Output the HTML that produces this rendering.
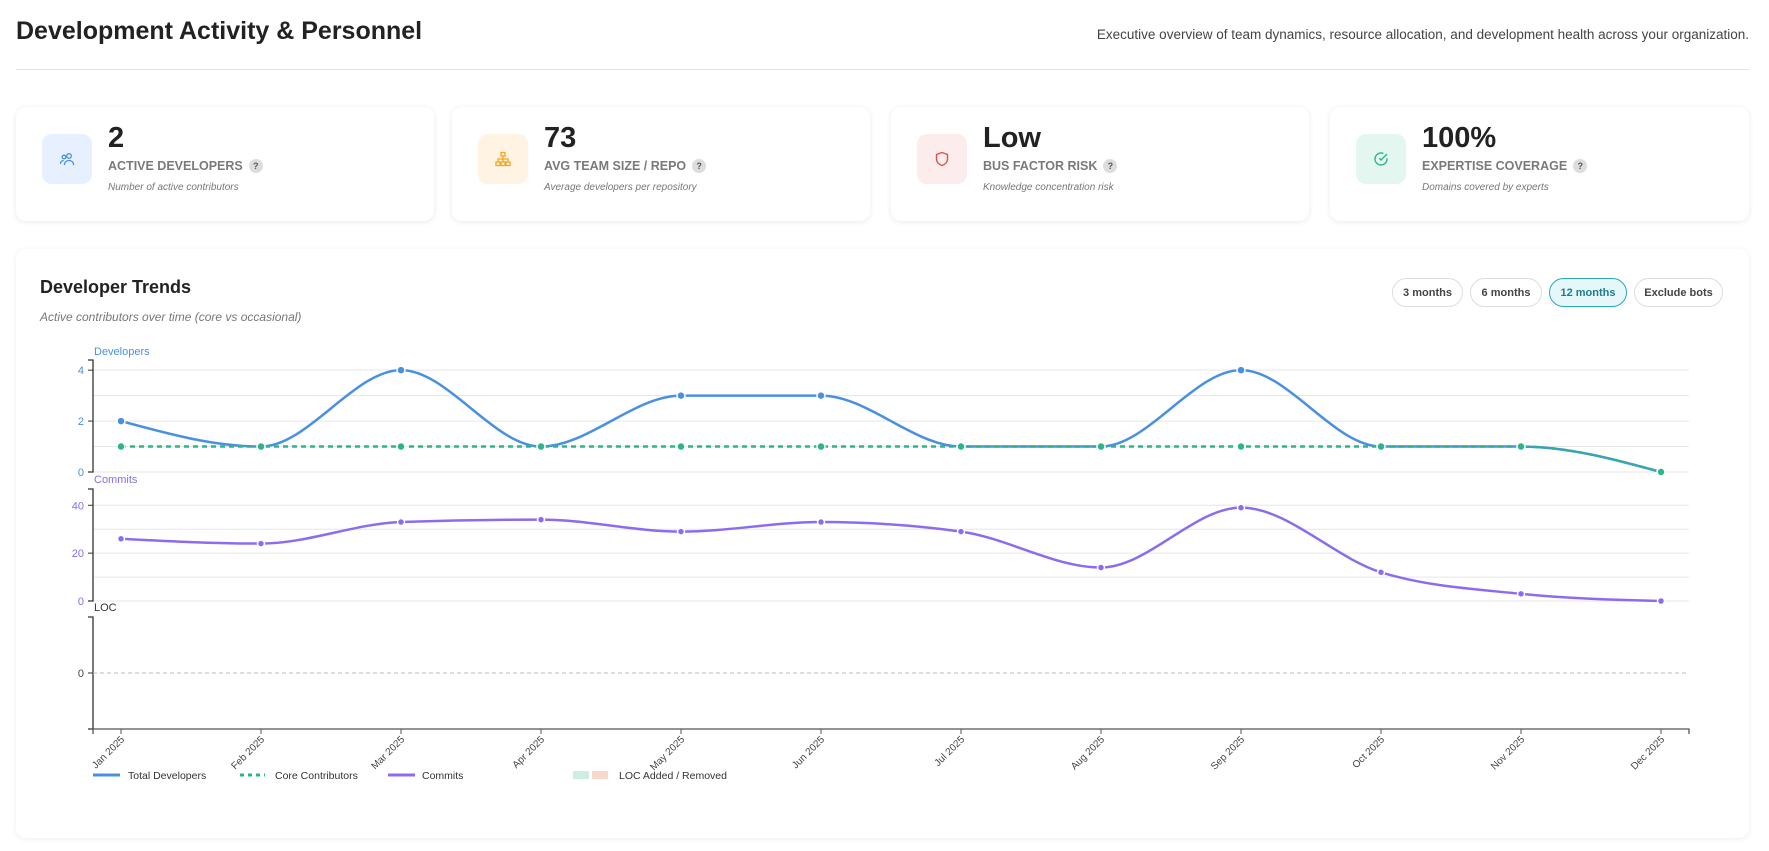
<!DOCTYPE html>
<html><head><meta charset="utf-8"><style>
*{box-sizing:border-box;margin:0;padding:0}
body{width:1769px;height:851px;background:#fff;font-family:"Liberation Sans",sans-serif;position:relative;overflow:hidden;color:#222}
h1{position:absolute;left:16px;top:17px;font-size:25px;font-weight:bold;color:#222}
.sub{position:absolute;right:20px;top:27px;font-size:13.5px;color:#444}
.divider{position:absolute;left:16px;top:69px;width:1733px;height:1px;background:#e3e3e3}
.card{position:absolute;top:107px;width:418px;height:114px;background:#fff;border-radius:10px;box-shadow:0 1px 6px rgba(0,0,0,.09)}
.icon{position:absolute;left:26px;top:27px;width:50px;height:50px;border-radius:10px;display:flex;align-items:center;justify-content:center}
.val{position:absolute;left:92px;top:15px;font-size:29px;font-weight:bold;color:#222}
.lbl{position:absolute;left:92px;top:52px;font-size:12.5px;font-weight:bold;color:#7a7a7a;display:flex;align-items:center;gap:6px}
.q{display:inline-block;width:14px;height:14px;border-radius:50%;background:#ddd;color:#555;font-size:9px;text-align:center;line-height:14px}
.desc{position:absolute;left:92px;top:75px;font-size:10px;font-style:italic;color:#777}
.chart{position:absolute;left:16px;top:249px;width:1733px;height:589px;background:#fff;border-radius:10px;box-shadow:0 1px 6px rgba(0,0,0,.08)}
.ct{position:absolute;left:24px;top:28px;font-size:18px;font-weight:bold;color:#222}
.cs{position:absolute;left:24px;top:61px;font-size:12px;font-style:italic;color:#777}
.btn{position:absolute;top:29px;height:29px;border:1px solid #ddd;border-radius:15px;font-size:11px;font-weight:bold;color:#444;display:flex;align-items:center;justify-content:center;background:#fff}
.btn.on{background:#e6f7fa;border-color:#29a8bf;color:#1b7d8f}
svg{position:absolute;left:0;top:0}
</style></head><body>
<h1>Development Activity &amp; Personnel</h1>
<div class="sub">Executive overview of team dynamics, resource allocation, and development health across your organization.</div>
<div class="divider"></div>

<div class="card" style="left:16px">
 <div class="icon" style="background:#e6f0ff"><svg style="position:static" width="16" height="16" viewBox="0 0 16 16" fill="none" stroke="#4a90e2" stroke-width="1.3"><circle cx="10" cy="5" r="2.3"/><path d="M5.5 14c0-3 2-4.5 4.5-4.5s4.5 1.5 4.5 4.5"/><circle cx="5" cy="6" r="1.8"/><path d="M1.5 13c0-2.2 1.3-3.4 3.3-3.4"/></svg></div>
 <div class="val">2</div>
 <div class="lbl">ACTIVE DEVELOPERS <span class="q">?</span></div>
 <div class="desc">Number of active contributors</div>
</div>
<div class="card" style="left:452px">
 <div class="icon" style="background:#fff3e3"><svg style="position:static" width="16" height="16" viewBox="0 0 16 16" fill="none" stroke="#f5a623" stroke-width="1.3"><rect x="6" y="1.5" width="4" height="3.5"/><rect x="1" y="11" width="4" height="3.5"/><rect x="6" y="11" width="4" height="3.5"/><rect x="11" y="11" width="4" height="3.5"/><path d="M8 5v6M3 11V8h10v3"/></svg></div>
 <div class="val">73</div>
 <div class="lbl">AVG TEAM SIZE / REPO <span class="q">?</span></div>
 <div class="desc">Average developers per repository</div>
</div>
<div class="card" style="left:891px">
 <div class="icon" style="background:#fdecec"><svg style="position:static" width="16" height="16" viewBox="0 0 16 16" fill="none" stroke="#d9534f" stroke-width="1.4"><path d="M8 1.5l5.5 2v4.5c0 3.2-2.5 5.5-5.5 6.5C5 13.5 2.5 11.2 2.5 8V3.5z"/></svg></div>
 <div class="val">Low</div>
 <div class="lbl">BUS FACTOR RISK <span class="q">?</span></div>
 <div class="desc">Knowledge concentration risk</div>
</div>
<div class="card" style="left:1330px;width:419px">
 <div class="icon" style="background:#e3f7f0"><svg style="position:static" width="16" height="16" viewBox="0 0 16 16" fill="none" stroke="#2bb58a" stroke-width="1.4"><path d="M14 7.4V8a6 6 0 1 1-3.6-5.5"/><path d="M14 3L8 9 6.2 7.2"/></svg></div>
 <div class="val">100%</div>
 <div class="lbl">EXPERTISE COVERAGE <span class="q">?</span></div>
 <div class="desc">Domains covered by experts</div>
</div>

<div class="chart">
 <div class="ct">Developer Trends</div>
 <div class="cs">Active contributors over time (core vs occasional)</div>
 <div class="btn" style="left:1376px;width:71px">3 months</div>
 <div class="btn" style="left:1454px;width:72px">6 months</div>
 <div class="btn on" style="left:1533px;width:78px">12 months</div>
 <div class="btn" style="left:1618px;width:89px">Exclude bots</div>
</div>

<svg id="chart" width="1769" height="851"></svg>
<script>
const months=["Jan 2025","Feb 2025","Mar 2025","Apr 2025","May 2025","Jun 2025","Jul 2025","Aug 2025","Sep 2025","Oct 2025","Nov 2025","Dec 2025"];
const totalDevs=[2,1,4,1,3,3,1,1,4,1,1,0];
const coreDevs=[1,1,1,1,1,1,1,1,1,1,1,0];
const commits=[26,24,33,34,29,33,29,14,39,12,3,0];
const devTicks=[0,2,4];
const commitTicks=[0,20,40];

const NS="http://www.w3.org/2000/svg";
const svg=document.getElementById('chart');
function mk(t,a,p){const e=document.createElementNS(NS,t);for(const k in a)e.setAttribute(k,a[k]);(p||svg).appendChild(e);return e;}
const X0=93,X1=1689,PAD=28;
const step=(X1-X0-2*PAD)/(months.length-1);
const x=i=>X0+PAD+i*step;
const devMax=Math.max(...totalDevs)*1.1, devTop=360, devBot=472;
const yD=v=>devBot-(v/devMax)*(devBot-devTop);
const comMax=Math.max(...commits)*1.2, comTop=489, comBot=601;
const yC=v=>comBot-(v/comMax)*(comBot-comTop);
const locTop=617, locBot=729, loc0=673;

function monotone(pts){
 const n=pts.length;if(n<2)return '';
 const dx=[],s=[];for(let i=0;i<n-1;i++){dx.push(pts[i+1][0]-pts[i][0]);s.push((pts[i+1][1]-pts[i][1])/dx[i]);}
 const t=new Array(n);
 for(let i=1;i<n-1;i++){ if(s[i-1]*s[i]<=0)t[i]=0; else { const h0=dx[i-1],h1=dx[i],p=(s[i-1]*h1+s[i]*h0)/(h0+h1); t[i]=(Math.sign(s[i-1])+Math.sign(s[i]))*Math.min(Math.abs(s[i-1]),Math.abs(s[i]),0.5*Math.abs(p)); } }
 t[0]=(3*s[0]-t[1])/2; t[n-1]=(3*s[n-2]-t[n-2])/2;
 let d='M'+pts[0][0]+','+pts[0][1];
 for(let i=0;i<n-1;i++){const h=dx[i]/3;d+=`C${pts[i][0]+h},${pts[i][1]+h*t[i]} ${pts[i+1][0]-h},${pts[i+1][1]-h*t[i+1]} ${pts[i+1][0]},${pts[i+1][1]}`;}
 return d;
}
function grid(y){const l=mk('line',{x1:X0,x2:X1,y1:y,y2:y,stroke:'#e6e6e6','stroke-width':1});}
function yaxis(top,bot,name){const a=mk('path',{d:`M${X0-5},${top}H${X0}V${bot}H${X0-5}`,fill:'none',stroke:'#333','stroke-width':1.3});}
function tick(y,label,color){mk('line',{x1:X0-5,x2:X0,y1:y,y2:y,stroke:'#333'});const t=mk('text',{x:X0-9,y:y+4,'text-anchor':'end','font-size':11,fill:color,'font-family':'Liberation Sans'});t.textContent=label;}
function title(y,txt,color,name){const t=mk('text',{x:X0+1,y:y,'font-size':11,fill:color,'font-family':'Liberation Sans'});t.textContent=txt;}

for(let v=0;v<=Math.floor(devMax);v++)grid(yD(v));
yaxis(devTop,devBot,'developers-y-axis');
devTicks.forEach(v=>tick(yD(v),v,'#4a90e2'));
title(355,'Developers','#4a90e2','developers-axis-title');
for(let v=0;v<=comMax;v+=10)grid(yC(v));
yaxis(comTop,comBot,'commits-y-axis');
commitTicks.forEach(v=>tick(yC(v),v,'#8b6cf0'));
title(483,'Commits','#8b6cf0','commits-axis-title');
yaxis(locTop,locBot,'loc-y-axis');
tick(loc0,0,'#444');
const zl=mk('line',{x1:X0,x2:X1,y1:loc0,y2:loc0,stroke:'#bbb','stroke-dasharray':'4,3'});

title(611,'LOC','#333','loc-axis-title');
const xa=mk('path',{d:`M${X0},${locBot+5}V${locBot}H${X1}V${locBot+5}`,fill:'none',stroke:'#555','stroke-width':1.3});

months.forEach((m,i)=>{mk('line',{x1:x(i),x2:x(i),y1:locBot,y2:locBot+5,stroke:'#555'});
 const ax=x(i)+4, ay=locBot+11;
 const t=mk('text',{x:ax,y:ay,'text-anchor':'end','font-size':10,fill:'#444','font-family':'Liberation Sans',transform:`rotate(-45 ${ax} ${ay})`});t.textContent=m;
 });

const p1=mk('path',{d:monotone(totalDevs.map((v,i)=>[x(i),yD(v)])),fill:'none',stroke:'#4a90e2','stroke-width':2.5});

const p2=mk('path',{d:monotone(coreDevs.map((v,i)=>[x(i),yD(v)])),fill:'none',stroke:'#2bb58a','stroke-width':2.5,'stroke-dasharray':'5,4'});

totalDevs.forEach((v,i)=>{const c=mk('circle',{cx:x(i),cy:yD(v),r:4,fill:'#4a90e2',stroke:'#fff','stroke-width':1.5});});
coreDevs.forEach((v,i)=>{const c=mk('circle',{cx:x(i),cy:yD(v),r:4,fill:'#2bb58a',stroke:'#fff','stroke-width':1.5});});
const p3=mk('path',{d:monotone(commits.map((v,i)=>[x(i),yC(v)])),fill:'none',stroke:'#8b6cf0','stroke-width':2.5});

commits.forEach((v,i)=>{const c=mk('circle',{cx:x(i),cy:yC(v),r:3.5,fill:'#8b6cf0',stroke:'#fff','stroke-width':1.5});});

const LY=775;
function legText(xp,txt,name){const t=mk('text',{x:xp,y:LY+4,'font-size':10.5,fill:'#333','font-family':'Liberation Sans'});t.textContent=txt;}
mk('line',{x1:93,x2:120,y1:LY,y2:LY,stroke:'#4a90e2','stroke-width':3});legText(128,'Total Developers','legend-total-developers');
mk('line',{x1:240,x2:265,y1:LY,y2:LY,stroke:'#2bb58a','stroke-width':3,'stroke-dasharray':'4,4'});legText(275,'Core Contributors','legend-core-contributors');
mk('line',{x1:388,x2:415,y1:LY,y2:LY,stroke:'#8b6cf0','stroke-width':3});legText(422,'Commits','legend-commits');
mk('rect',{x:573,y:LY-4,width:16,height:8,fill:'#cdeee4'});mk('rect',{x:592,y:LY-4,width:16,height:8,fill:'#f8d9cc'});
legText(619,'LOC Added / Removed','legend-loc');
</script>
</body></html>
